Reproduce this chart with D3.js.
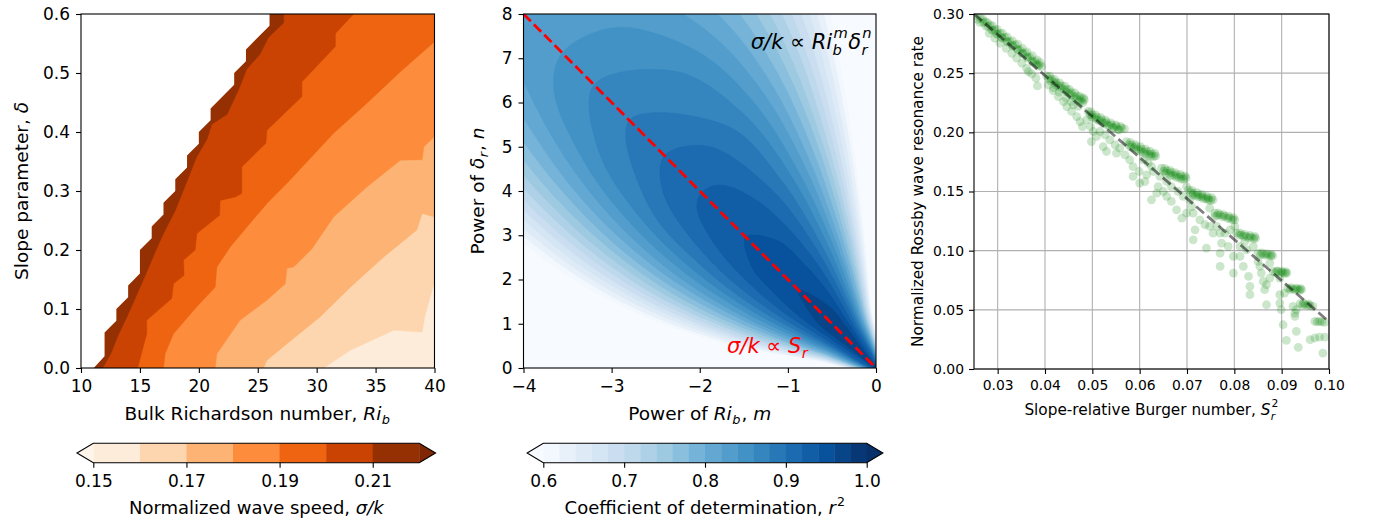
<!DOCTYPE html>
<html>
<head>
<meta charset="utf-8">
<script src="https://cdn.jsdelivr.net/npm/d3@7"></script>
<style>
  body { margin: 0; background: #fff; }
  svg text { font-family: "DejaVu Sans", sans-serif; fill: #000; white-space: pre; }
</style>
</head>
<body>
<svg id="fig" width="1374" height="529"></svg>
<script>
// ---------------- Panel 1: wave speed over (Ri_b, delta) ----------------
const speedLevels = [0.15, 0.16, 0.17, 0.18, 0.19, 0.20, 0.21, 0.22];
const speedTicks = [0.15, 0.17, 0.19, 0.21];
const riTicks = [10, 15, 20, 25, 30, 35, 40];
const deltaTicks = [0, 0.1, 0.2, 0.3, 0.4, 0.5, 0.6];

// edge of the solved region (no solution to the left of it)
const nanEdgeRi    = [11.08, 12, 12, 13, 13, 14, 14, 15, 15, 16, 16, 17, 17, 18, 18, 19, 19, 20, 20, 21, 21, 23, 23, 24, 24, 26, 26];
const nanEdgeDelta = [0, 0.02, 0.06, 0.08, 0.10, 0.12, 0.14, 0.16, 0.20, 0.22, 0.24, 0.26, 0.28, 0.30, 0.32, 0.34, 0.36, 0.38, 0.40, 0.42, 0.44, 0.48, 0.50, 0.52, 0.54, 0.58, 0.60];

// iso-lines of sigma/k
const c016Ri    = [30.6, 32.86, 36.54, 38.95, 39.2, 40];
const c016Delta = [0, 0.03, 0.064, 0.061, 0.089, 0.146];
const c017Ri    = [25.5, 25.78, 27.48, 30.31, 32.86, 35.69, 38.5, 38.95, 40];
const c017Delta = [0, 0.013, 0.041, 0.087, 0.137, 0.188, 0.234, 0.262, 0.256];
const c018Ri    = [21.39, 21.53, 23.5, 25.78, 27.34, 27.48, 28.04, 29.6, 31.44, 34.28, 37.1, 38.95, 39.1, 40];
const c018Delta = [0, 0.024, 0.081, 0.115, 0.143, 0.169, 0.171, 0.202, 0.256, 0.307, 0.352, 0.353, 0.375, 0.392];
const c019Ri    = [17.0, 17.14, 17.85, 18.84, 19.83, 21.39, 21.53, 22.66, 24.08, 25.78, 27.48, 31.44, 34.28, 37.1, 40];
const c019Delta = [0, 0.024, 0.058, 0.081, 0.104, 0.137, 0.171, 0.205, 0.239, 0.279, 0.313, 0.398, 0.449, 0.502, 0.553];
const c020Ri    = [14.8, 15.58, 15.58, 17.7, 17.85, 18.75, 18.7, 19.69, 19.83, 21.76, 21.81, 23.09, 23.65, 23.65, 25.69, 25.78, 28.75, 28.75, 31.59, 31.59, 33.14];
const c020Delta = [0, 0.058, 0.081, 0.118, 0.143, 0.157, 0.183, 0.20, 0.228, 0.259, 0.284, 0.29, 0.296, 0.341, 0.381, 0.403, 0.46, 0.485, 0.545, 0.567, 0.6];
const c021Ri    = [11.84, 12.55, 13.1, 13.97, 14.67, 15.52, 16.37, 17.05, 18.0, 19.0, 19.8, 20.7, 21.1, 22.4, 23.4, 24.08, 25.2, 25.9, 27.2, 27.2];
const c021Delta = [0, 0.025, 0.053, 0.09, 0.121, 0.16, 0.20, 0.23, 0.267, 0.317, 0.357, 0.388, 0.413, 0.43, 0.473, 0.507, 0.532, 0.56, 0.585, 0.6];

// ---------------- Panel 2: r^2 over exponents (m, n) ----------------
const r2Levels = d3.range(21).map(i => +(0.6 + 0.02 * i).toFixed(2));
const r2Ticks = [0.6, 0.7, 0.8, 0.9, 1.0];
const mTicks = [-4, -3, -2, -1, 0];
const nTicks = [0, 1, 2, 3, 4, 5, 6, 7, 8];
// Iso-lines of r^2 in ridge coordinates: s runs along the diagonal from (0,0) (s=0)
// to (-4,8) (s=1); d is the offset across it (upper = towards (0,8), lower = towards (-4,0)).
// One entry per level: stations s, upper offsets, lower offsets, and where the level closes on the ridge.
const r2StationS = [
  [0.1, 0.25, 0.4, 0.55, 0.7, 0.85, 1.0],
  [0.1, 0.25, 0.4, 0.55, 0.7, 0.85, 1.0],
  [0.1, 0.25, 0.4, 0.55, 0.7, 0.85, 1.0],
  [0.1, 0.25, 0.4, 0.55, 0.7, 0.85, 1.0],
  [0.1, 0.25, 0.4, 0.55, 0.7, 0.85, 1.0],
  [0.1, 0.25, 0.4, 0.55, 0.7, 0.85, 1.0],
  [0.1, 0.25, 0.4, 0.55, 0.7, 0.85, 1.0],
  [0.1, 0.25, 0.4, 0.55, 0.7, 0.85, 1.0],
  [0.1, 0.25, 0.4, 0.55, 0.7, 0.85, 1.0],
  [0.1, 0.25, 0.4, 0.55, 0.7, 0.85, 1.0],
  [0.1, 0.25, 0.4, 0.55, 0.7, 0.85, 1.0],
  [0.1, 0.25, 0.4, 0.55, 0.7, 0.85, 1.0],
  [0.1, 0.25, 0.4, 0.55, 0.7, 0.85],
  [0.1, 0.25, 0.4, 0.55, 0.7],
  [0.1, 0.25, 0.4, 0.55],
  [0.1, 0.25, 0.4, 0.55],
  [0.1, 0.25, 0.4, 0.48],
  [0.05, 0.1, 0.18, 0.25, 0.32],
  [0.05, 0.1, 0.15],
  []
];
const r2UpperD = [
  [0.084, 0.207, 0.321, 0.425, 0.514, 0.588, 0.657],
  [0.082, 0.202, 0.312, 0.411, 0.495, 0.565, 0.628],
  [0.080, 0.195, 0.302, 0.397, 0.476, 0.539, 0.596],
  [0.077, 0.189, 0.291, 0.382, 0.455, 0.513, 0.563],
  [0.075, 0.182, 0.280, 0.366, 0.434, 0.485, 0.528],
  [0.072, 0.176, 0.269, 0.349, 0.412, 0.455, 0.491],
  [0.069, 0.169, 0.257, 0.333, 0.388, 0.423, 0.449],
  [0.067, 0.162, 0.245, 0.314, 0.363, 0.389, 0.405],
  [0.064, 0.154, 0.233, 0.295, 0.336, 0.351, 0.354],
  [0.061, 0.146, 0.219, 0.275, 0.307, 0.310, 0.294],
  [0.057, 0.137, 0.204, 0.253, 0.275, 0.261, 0.219],
  [0.054, 0.128, 0.189, 0.229, 0.238, 0.200, 0.099],
  [0.050, 0.119, 0.171, 0.202, 0.194, 0.112],
  [0.046, 0.108, 0.153, 0.171, 0.137],
  [0.042, 0.096, 0.131, 0.132],
  [0.037, 0.083, 0.104, 0.076],
  [0.031, 0.067, 0.069, 0.037],
  [0.013, 0.024, 0.040, 0.045, 0.040],
  [0.008, 0.016, 0.021],
  []
];
const r2LowerD = [
  [0.078, 0.180, 0.255, 0.303, 0.327, 0.334, 0.335],
  [0.076, 0.175, 0.248, 0.293, 0.315, 0.321, 0.320],
  [0.073, 0.170, 0.240, 0.283, 0.303, 0.306, 0.304],
  [0.071, 0.164, 0.231, 0.272, 0.290, 0.291, 0.287],
  [0.069, 0.159, 0.223, 0.261, 0.276, 0.275, 0.269],
  [0.066, 0.153, 0.214, 0.249, 0.262, 0.259, 0.250],
  [0.064, 0.147, 0.205, 0.237, 0.247, 0.241, 0.229],
  [0.061, 0.141, 0.195, 0.224, 0.231, 0.221, 0.206],
  [0.058, 0.134, 0.185, 0.210, 0.214, 0.200, 0.180],
  [0.056, 0.127, 0.174, 0.196, 0.195, 0.176, 0.150],
  [0.053, 0.119, 0.162, 0.180, 0.175, 0.148, 0.112],
  [0.049, 0.112, 0.150, 0.163, 0.151, 0.114, 0.050],
  [0.046, 0.103, 0.136, 0.144, 0.124, 0.064],
  [0.042, 0.094, 0.121, 0.122, 0.087],
  [0.038, 0.084, 0.104, 0.094],
  [0.034, 0.072, 0.083, 0.054],
  [0.029, 0.058, 0.055, 0.028],
  [0.012, 0.022, 0.036, 0.039, 0.033],
  [0.0075, 0.0145, 0.019],
  []
];
const r2TipS = [1.4, 1.4, 1.4, 1.4, 1.4, 1.4, 1.4, 1.4, 1.4, 1.3, 1.167, 1.033, 0.89, 0.80, 0.70, 0.60, 0.495, 0.37, 0.22, 0];
const ridgeM = [-4, 0];
const ridgeN = [8, 0];

// ---------------- Panel 3: resonance rate vs Burger number ----------------
const burgerSq = [
  0.0252,0.0263,0.0273,0.0284,0.0294,0.0305,0.0315,0.0326,0.0337,0.0347,0.0358,0.0368,0.0379,0.0388,0.0393,
  0.0258,0.0270,0.0280,0.0290,0.0300,0.0310,0.0321,0.0332,0.0343,0.0353,0.0363,0.0374,0.0385,
  0.0268,0.0278,0.0289,0.0299,0.0310,0.0320,0.0331,0.0342,0.0352,0.0362,0.0373,0.0383,0.0390,
  0.0262,0.0275,0.0287,0.0298,0.0309,0.0320,0.0331,0.0342,0.0352,0.0363,0.0373,0.0382,
  0.0282,0.0294,0.0305,0.0318,0.0330,0.0340,0.0351,0.0361,0.0372,0.0384,0.0381,0.0365,
  0.0403,0.0414,0.0424,0.0435,0.0446,0.0456,0.0467,0.0477,0.0483,
  0.0408,0.0420,0.0430,0.0441,0.0451,0.0462,0.0472,0.0480,
  0.0410,0.0420,0.0431,0.0442,0.0452,0.0463,0.0473,0.0482,
  0.0412,0.0423,0.0434,0.0445,0.0455,0.0466,0.0476,
  0.0407,0.0417,0.0428,0.0439,0.0446,0.0456,0.0467,0.0474,0.0479,0.0460,
  0.0418,0.0430,0.0445,0.0455,0.0470,
  0.0491,0.0500,0.0510,0.0520,0.0530,0.0541,0.0551,0.0562,
  0.0495,0.0505,0.0515,0.0525,0.0536,0.0546,0.0557,
  0.0497,0.0507,0.0518,0.0528,0.0539,0.0550,0.0560,0.0568,
  0.0499,0.0510,0.0521,0.0532,0.0543,0.0554,
  0.0488,0.0496,0.0502,0.0509,0.0516,0.0527,0.0498,0.0537,0.0548,0.0551,0.0558,0.0523,0.0530,
  0.0572,0.0583,0.0593,0.0604,0.0615,0.0625,0.0634,
  0.0577,0.0588,0.0598,0.0609,0.0620,0.0630,
  0.0580,0.0591,0.0602,0.0612,0.0622,0.0632,
  0.0581,0.0592,0.0603,0.0613,0.0624,
  0.0569,0.0579,0.0586,0.0599,0.0608,0.0618,0.0625,0.0615,0.0629,0.0600,0.0586,0.0611,
  0.0646,0.0657,0.0667,0.0678,0.0689,0.0698,
  0.0651,0.0662,0.0672,0.0683,0.0693,
  0.0653,0.0664,0.0675,0.0686,0.0696,
  0.0655,0.0666,0.0677,0.0688,
  0.0643,0.0639,0.0650,0.0657,0.0667,0.0678,0.0689,0.0699,0.0667,0.0657,0.0681,0.0692,0.0699,0.0625,0.0636,
  0.0703,0.0713,0.0724,0.0734,0.0745,0.0755,
  0.0708,0.0718,0.0729,0.0740,0.0750,
  0.0710,0.0721,0.0731,0.0742,0.0752,
  0.0712,0.0723,0.0734,0.0745,
  0.0706,0.0710,0.0713,0.0717,0.0713,0.0727,0.0738,0.0748,0.0755,0.0741,0.0759,0.0748,
  0.0759,0.0770,0.0780,0.0791,0.0801,
  0.0764,0.0775,0.0786,0.0796,
  0.0766,0.0777,0.0788,0.0798,
  0.0763,0.0770,0.0773,0.0770,0.0770,0.0787,0.0798,0.0798,0.0780,0.0791,0.0801,
  0.0805,0.0815,0.0826,0.0836,0.0845,
  0.0810,0.0820,0.0831,0.0841,
  0.0812,0.0822,0.0833,0.0843,
  0.0812,0.0812,0.0819,0.0830,0.0833,0.0833,0.0826,0.0840,0.0822,
  0.0850,0.0861,0.0872,0.0881,
  0.0855,0.0866,0.0877,
  0.0858,0.0868,0.0878,
  0.0850,0.0854,0.0857,0.0861,0.0864,0.0868,0.0875,
  0.0882,0.0892,0.0903,0.0911,
  0.0887,0.0898,0.0907,
  0.0890,0.0900,0.0909,
  0.0875,0.0868,0.0896,0.0896,0.0896,0.0899,0.0903,
  0.0913,0.0924,0.0934,0.0942,
  0.0918,0.0929,0.0938,
  0.0920,0.0931,0.0940,
  0.0906,0.0910,0.0931,0.0928,0.0935,0.0924,
  0.0939,0.0949,0.0960,0.0966,
  0.0944,0.0955,
  0.0946,0.0957,
  0.0931,0.0928,
  0.0970,0.0980,0.0991,0.0975,0.0985,0.0960,0.0970,0.0980,0.0991,0.0987
];
const resonanceRate = [
  0.2990,0.2964,0.2936,0.2907,0.2865,0.2837,0.2803,0.2767,0.2739,0.2696,0.2668,0.2634,0.2598,0.2570,0.2556,
  0.2955,0.2925,0.2895,0.2862,0.2828,0.2795,0.2762,0.2728,0.2695,0.2662,0.2628,0.2594,0.2560,
  0.2958,0.2930,0.2900,0.2870,0.2838,0.2806,0.2775,0.2745,0.2712,0.2680,0.2648,0.2612,0.2590,
  0.2930,0.2898,0.2866,0.2832,0.2800,0.2768,0.2735,0.2702,0.2670,0.2637,0.2604,0.2575,
  0.2837,0.2795,0.2753,0.2710,0.2668,0.2626,0.2584,0.2541,0.2494,0.2392,0.2457,0.2513,
  0.2477,0.2449,0.2421,0.2392,0.2364,0.2336,0.2308,0.2288,0.2274,
  0.2452,0.2420,0.2390,0.2360,0.2330,0.2300,0.2272,0.2250,
  0.2475,0.2448,0.2418,0.2390,0.2362,0.2333,0.2305,0.2290,
  0.2432,0.2400,0.2372,0.2342,0.2314,0.2285,0.2262,
  0.2401,0.2353,0.2302,0.2260,0.2218,0.2176,0.2133,0.2091,0.2049,0.2232,
  0.2375,0.2340,0.2290,0.2260,0.2220,
  0.2176,0.2147,0.2128,0.2105,0.2083,0.2063,0.2049,0.2035,
  0.2150,0.2120,0.2098,0.2075,0.2055,0.2038,0.2020,
  0.2172,0.2148,0.2125,0.2102,0.2080,0.2062,0.2050,0.2030,
  0.2128,0.2105,0.2082,0.2060,0.2040,0.2022,
  0.2105,0.2049,0.2007,0.1965,0.2007,0.1979,0.1922,0.1936,0.1894,0.1824,0.1866,0.1880,0.1838,
  0.1922,0.1894,0.1880,0.1858,0.1838,0.1818,0.1801,
  0.1895,0.1870,0.1852,0.1832,0.1812,0.1795,
  0.1915,0.1895,0.1878,0.1858,0.1840,0.1822,
  0.1875,0.1855,0.1836,0.1816,0.1798,
  0.1810,0.1768,0.1711,0.1669,0.1768,0.1739,0.1711,0.1641,0.1669,0.1571,0.1627,0.1584,
  0.1697,0.1677,0.1661,0.1641,0.1627,0.1613,
  0.1672,0.1652,0.1636,0.1620,0.1605,
  0.1695,0.1678,0.1660,0.1645,0.1630,
  0.1655,0.1637,0.1620,0.1605,
  0.1627,0.1542,0.1500,0.1458,0.1416,0.1345,0.1275,0.1317,0.1542,0.1585,0.1500,0.1458,0.1542,0.1430,0.1486,
  0.1514,0.1486,0.1472,0.1458,0.1444,0.1430,
  0.1490,0.1468,0.1455,0.1440,0.1425,
  0.1510,0.1490,0.1475,0.1460,0.1448,
  0.1470,0.1455,0.1440,0.1427,
  0.1430,0.1373,0.1317,0.1176,0.1092,0.1261,0.1219,0.1205,0.1148,0.1022,0.1289,0.1359,
  0.1317,0.1303,0.1289,0.1275,0.1261,
  0.1298,0.1285,0.1272,0.1260,
  0.1318,0.1305,0.1292,0.1280,
  0.1205,0.1148,0.1064,0.0980,0.0867,0.1036,0.0951,0.0811,0.1148,0.1176,0.1205,
  0.1148,0.1134,0.1120,0.1115,0.1106,
  0.1132,0.1120,0.1108,0.1100,
  0.1150,0.1138,0.1128,0.1120,
  0.1036,0.0951,0.0867,0.0782,0.0698,0.0628,0.1007,0.1036,0.1078,
  0.0979,0.0971,0.0965,0.0957,
  0.0965,0.0960,0.0955,
  0.0982,0.0975,0.0968,
  0.0909,0.0867,0.0811,0.0740,0.0670,0.0543,0.0895,
  0.0825,0.0825,0.0816,0.0811,
  0.0815,0.0812,0.0808,
  0.0830,0.0826,0.0822,
  0.0768,0.0712,0.0768,0.0628,0.0557,0.0501,0.0374,
  0.0684,0.0675,0.0675,0.0670,
  0.0672,0.0668,0.0665,
  0.0688,0.0684,0.0680,
  0.0642,0.0242,0.0318,0.0473,0.0183,0.0529,
  0.0552,0.0543,0.0535,0.0529,
  0.0542,0.0538,
  0.0556,0.0550,
  0.0501,0.0445,
  0.0402,0.0402,0.0394,0.0398,0.0398,0.0248,0.0262,0.0270,0.0270,0.0135
];
const fitLineX = [0.025, 0.10];
const fitLineY = [0.30, 0.04];
const burgerTicks = [0.03, 0.04, 0.05, 0.06, 0.07, 0.08, 0.09, 0.10];
const rateTicks = [0, 0.05, 0.10, 0.15, 0.20, 0.25, 0.30];

// ---------------- colour ramps ----------------
const orangesStops = ['#fff5eb','#fee6ce','#fdd0a2','#fdae6b','#fd8d3c','#f16913','#d94801','#a63603','#7f2704'];
const bluesStops   = ['#f7fbff','#deebf7','#c6dbef','#9ecae1','#6baed6','#4292c6','#2171b5','#08519c','#08306b'];
function ramp(stops) {
  return d3.scaleLinear()
    .domain(stops.map((_, i) => i / (stops.length - 1)))
    .range(stops)
    .interpolate(d3.interpolateRgb);
}
const oranges = ramp(orangesStops);
const blues = ramp(bluesStops);
function binColours(levels, cmap) {
  const lo = levels[0], hi = levels[levels.length - 1];
  return d3.range(levels.length - 1).map(i => cmap(((levels[i] + levels[i + 1]) / 2 - lo) / (hi - lo)));
}
const speedColours = binColours(speedLevels, oranges);
const r2Colours = binColours(r2Levels, blues);

// ---------------- helpers ----------------
const svg = d3.select('#fig');
const TICK = 17, LABEL = 18.5, SPINE = 1.1;

// text with italic runs and sub/superscripts
function mathText(parent, parts, opt) {
  const size = opt.size;
  const outer = parent.append('g')
    .attr('transform', `translate(${opt.x},${opt.y}) rotate(${opt.rotate || 0})`);
  const inner = outer.append('g');
  let cursor = 0;
  const put = (txt, x, y, sz, italic) => {
    const t = inner.append('text').attr('x', x).attr('y', y)
      .attr('xml:space', 'preserve')
      .style('font-size', sz + 'px')
      .style('font-style', italic ? 'italic' : 'normal')
      .style('fill', opt.fill || '#000')
      .text(txt);
    return t.node().getComputedTextLength();
  };
  parts.forEach(p => {
    if (p.t) cursor += put(p.t, cursor, 0, size, !!p.it);
    const both = p.sub && p.sup;
    let w = 0;
    if (p.sub) w = Math.max(w, put(p.sub, cursor + 0.02 * size, (both ? 0.30 : 0.24) * size, 0.7 * size, !/[0-9]/.test(p.sub)));
    if (p.sup) w = Math.max(w, put(p.sup, cursor + 0.06 * size, (both ? -0.52 : -0.44) * size, 0.7 * size, !/[0-9]/.test(p.sup)));
    if (w) cursor += w + 0.08 * size;
  });
  const shift = opt.anchor === 'middle' ? -cursor / 2 : opt.anchor === 'end' ? -cursor : 0;
  inner.attr('transform', `translate(${shift},0)`);
  return outer;
}

function styleAxis(g, size) {
  g.select('.domain').remove();
  g.selectAll('.tick line').attr('stroke', '#000').attr('stroke-width', SPINE);
  g.selectAll('.tick text').style('font-size', size + 'px')
    .style('font-family', '"DejaVu Sans", sans-serif').attr('fill', '#000');
}

function frame(box) {
  svg.append('rect').attr('x', box.x0).attr('y', box.y0)
    .attr('width', box.x1 - box.x0).attr('height', box.y1 - box.y0)
    .attr('fill', 'none').attr('stroke', '#000').attr('stroke-width', SPINE);
}

function clipFor(id, box) {
  svg.append('clipPath').attr('id', id).append('rect')
    .attr('x', box.x0).attr('y', box.y0)
    .attr('width', box.x1 - box.x0).attr('height', box.y1 - box.y0);
}

function colorbar(o) {
  const g = svg.append('g');
  const s = d3.scaleLinear().domain([o.levels[0], o.levels[o.levels.length - 1]]).range([o.x0, o.x1]);
  const mid = (o.y0 + o.y1) / 2;
  const ext = 0.05 * (o.x1 - o.x0);
  o.colours.forEach((c, i) => {
    g.append('rect').attr('x', s(o.levels[i])).attr('y', o.y0)
      .attr('width', s(o.levels[i + 1]) - s(o.levels[i]) + 0.4).attr('height', o.y1 - o.y0)
      .attr('fill', c);
  });
  g.append('path').attr('d', `M${o.x0},${o.y0}L${o.x0 - ext},${mid}L${o.x0},${o.y1}Z`).attr('fill', o.under);
  g.append('path').attr('d', `M${o.x1},${o.y0}L${o.x1 + ext},${mid}L${o.x1},${o.y1}Z`).attr('fill', o.over);
  g.append('path')
    .attr('d', `M${o.x0},${o.y0}L${o.x1},${o.y0}L${o.x1 + ext},${mid}L${o.x1},${o.y1}L${o.x0},${o.y1}L${o.x0 - ext},${mid}Z`)
    .attr('fill', 'none').attr('stroke', '#000').attr('stroke-width', SPINE);
  const ax = g.append('g').attr('transform', `translate(0,${o.y1})`)
    .call(d3.axisBottom(s).tickValues(o.ticks).tickSize(5).tickPadding(7).tickFormat(o.fmt));
  styleAxis(ax, TICK);
  mathText(svg, o.label, { x: (o.x0 + o.x1) / 2, y: 514, size: 18, anchor: 'middle' });
}

// ================= Panel 1 =================
const box1 = { x0: 81, x1: 434.5, y0: 14, y1: 368 };
const xRi = d3.scaleLinear().domain([10, 40]).range([box1.x0, box1.x1]);
const yDelta = d3.scaleLinear().domain([0, 0.6]).range([box1.y1, box1.y0]);
clipFor('clip1', box1);
const g1 = svg.append('g').attr('clip-path', 'url(#clip1)');
const line1 = d3.line().x(d => xRi(d[0])).y(d => yDelta(d[1])).curve(d3.curveLinearClosed);

g1.append('rect').attr('x', box1.x0).attr('y', box1.y0)
  .attr('width', box1.x1 - box1.x0).attr('height', box1.y1 - box1.y0)
  .attr('fill', speedColours[0]);
const speedIso = [
  [c016Ri, c016Delta], [c017Ri, c017Delta], [c018Ri, c018Delta],
  [c019Ri, c019Delta], [c020Ri, c020Delta], [c021Ri, c021Delta]
];
speedIso.forEach(([ri, de], k) => {
  const pts = ri.map((r, i) => [r, de[i]]);
  if (pts[pts.length - 1][0] >= 40) pts.push([40, 0.6]);
  pts.push([10, 0.6], [10, 0]);
  g1.append('path').attr('d', line1(pts)).attr('fill', speedColours[k + 1])
    .attr('stroke', speedColours[k + 1]).attr('stroke-width', 0.4);
});
const nanPts = nanEdgeRi.map((r, i) => [r, nanEdgeDelta[i]]);
nanPts.push([10, 0.6], [10, 0]);
g1.append('path').attr('d', line1(nanPts)).attr('fill', '#fff');

frame(box1);
styleAxis(svg.append('g').attr('transform', `translate(0,${box1.y1})`)
  .call(d3.axisBottom(xRi).tickValues(riTicks).tickSize(5).tickPadding(7).tickFormat(d3.format('d'))), TICK);
styleAxis(svg.append('g').attr('transform', `translate(${box1.x0},0)`)
  .call(d3.axisLeft(yDelta).tickValues(deltaTicks).tickSize(5).tickPadding(6).tickFormat(d3.format('.1f'))), TICK);
mathText(svg, [{ t: 'Bulk Richardson number, ' }, { t: 'Ri', it: true, sub: 'b' }],
  { x: (box1.x0 + box1.x1) / 2, y: 420, size: LABEL, anchor: 'middle' });
mathText(svg, [{ t: 'Slope parameter, ' }, { t: 'δ', it: true }],
  { x: 28, y: (box1.y0 + box1.y1) / 2, size: LABEL, anchor: 'middle', rotate: -90 });

colorbar({
  levels: speedLevels, colours: speedColours, under: oranges(0), over: oranges(1),
  x0: 93.3, x1: 419.3, y0: 443.3, y1: 462.7, ticks: speedTicks, fmt: d3.format('.2f'),
  label: [{ t: 'Normalized wave speed, ' }, { t: 'σ/k', it: true }]
});

// ================= Panel 2 =================
const box2 = { x0: 523.5, x1: 876, y0: 14, y1: 368 };
const xM = d3.scaleLinear().domain([-4, 0]).range([box2.x0, box2.x1]);
const yN = d3.scaleLinear().domain([0, 8]).range([box2.y1, box2.y0]);
clipFor('clip2', box2);
const g2 = svg.append('g').attr('clip-path', 'url(#clip2)');
// ridge coordinates -> exponents (m, n)
const ridgeToMN = (s, d) => [-4 * (s - d), 8 * (s + d)];
const line2 = d3.line().x(d => xM(d[0])).y(d => yN(d[1])).curve(d3.curveCatmullRomClosed.alpha(0.5));
g2.append('rect').attr('x', box2.x0).attr('y', box2.y0)
  .attr('width', box2.x1 - box2.x0).attr('height', box2.y1 - box2.y0)
  .attr('fill', blues(0));
r2StationS.forEach((st, k) => {
  if (!st.length) return;
  const pts = [[0, 0]];
  st.forEach((s, i) => pts.push(ridgeToMN(s, r2UpperD[k][i])));
  pts.push(ridgeToMN(r2TipS[k], 0));
  for (let i = st.length - 1; i >= 0; i--) pts.push(ridgeToMN(st[i], -r2LowerD[k][i]));
  g2.append('path').attr('d', line2(pts)).attr('fill', r2Colours[k])
    .attr('stroke', r2Colours[k]).attr('stroke-width', 0.4);
});
g2.append('line')
  .attr('x1', xM(ridgeM[0])).attr('y1', yN(ridgeN[0]))
  .attr('x2', xM(ridgeM[1])).attr('y2', yN(ridgeN[1]))
  .attr('stroke', '#ff0000').attr('stroke-width', 2.8).attr('stroke-dasharray', '10.3,4.4');

frame(box2);
styleAxis(svg.append('g').attr('transform', `translate(0,${box2.y1})`)
  .call(d3.axisBottom(xM).tickValues(mTicks).tickSize(5).tickPadding(7)
    .tickFormat(d => d < 0 ? '\u2212' + Math.abs(d) : String(d))), TICK);
styleAxis(svg.append('g').attr('transform', `translate(${box2.x0},0)`)
  .call(d3.axisLeft(yN).tickValues(nTicks).tickSize(5).tickPadding(6).tickFormat(d3.format('d'))), TICK);
mathText(svg, [{ t: 'Power of ' }, { t: 'Ri', it: true, sub: 'b' }, { t: ', ' }, { t: 'm', it: true }],
  { x: (box2.x0 + box2.x1) / 2, y: 420, size: LABEL, anchor: 'middle' });
mathText(svg, [{ t: 'Power of ' }, { t: 'δ', it: true, sub: 'r' }, { t: ', ' }, { t: 'n', it: true }],
  { x: 484, y: (box2.y0 + box2.y1) / 2, size: LABEL, anchor: 'middle', rotate: -90 });
mathText(svg, [{ t: 'σ/k', it: true }, { t: ' ∝ ' }, { t: 'Ri', it: true, sub: 'b', sup: 'm' }, { t: 'δ', it: true, sub: 'r', sup: 'n' }],
  { x: 872, y: 49, size: 21, anchor: 'end' });
mathText(svg, [{ t: 'σ/k', it: true }, { t: ' ∝ ' }, { t: 'S', it: true, sub: 'r' }],
  { x: 727, y: 353, size: 21, anchor: 'start', fill: '#ff0000' });

colorbar({
  levels: r2Levels, colours: r2Colours, under: blues(0), over: blues(1),
  x0: 543.3, x1: 866.7, y0: 443.3, y1: 462.7, ticks: r2Ticks, fmt: d3.format('.1f'),
  label: [{ t: 'Coefficient of determination, ' }, { t: 'r', it: true, sup: '2' }]
});

// ================= Panel 3 =================
const box3 = { x0: 974, x1: 1329, y0: 14, y1: 369 };
const xB = d3.scaleLinear().domain([0.025, 0.10]).range([box3.x0, box3.x1]);
const yR = d3.scaleLinear().domain([0, 0.30]).range([box3.y1, box3.y0]);
clipFor('clip3', box3);
const g3 = svg.append('g');
burgerTicks.forEach(v => g3.append('line').attr('x1', xB(v)).attr('x2', xB(v))
  .attr('y1', box3.y0).attr('y2', box3.y1).attr('stroke', '#b0b0b0').attr('stroke-width', 1.1));
rateTicks.forEach(v => g3.append('line').attr('y1', yR(v)).attr('y2', yR(v))
  .attr('x1', box3.x0).attr('x2', box3.x1).attr('stroke', '#b0b0b0').attr('stroke-width', 1.1));
const g3c = svg.append('g').attr('clip-path', 'url(#clip3)');
g3c.selectAll('circle').data(burgerSq.map((x, i) => [x, resonanceRate[i]])).join('circle')
  .attr('cx', d => xB(d[0])).attr('cy', d => yR(d[1])).attr('r', 4.4)
  .attr('fill', '#008000').attr('fill-opacity', 0.2);
g3c.append('line')
  .attr('x1', xB(fitLineX[0])).attr('y1', yR(fitLineY[0]))
  .attr('x2', xB(fitLineX[1])).attr('y2', yR(fitLineY[1]))
  .attr('stroke', '#000').attr('stroke-opacity', 0.5)
  .attr('stroke-width', 2.8).attr('stroke-dasharray', '10.3,4.4');
frame(box3);
styleAxis(svg.append('g').attr('transform', `translate(0,${box3.y1})`)
  .call(d3.axisBottom(xB).tickValues(burgerTicks).tickSize(5).tickPadding(6).tickFormat(d3.format('.2f'))), 13.9);
styleAxis(svg.append('g').attr('transform', `translate(${box3.x0},0)`)
  .call(d3.axisLeft(yR).tickValues(rateTicks).tickSize(5).tickPadding(5).tickFormat(d3.format('.2f'))), 13.9);
mathText(svg, [{ t: 'Slope-relative Burger number, ' }, { t: 'S', it: true, sub: 'r', sup: '2' }],
  { x: (box3.x0 + box3.x1) / 2, y: 415, size: 15.3, anchor: 'middle' });
mathText(svg, [{ t: 'Normalized Rossby wave resonance rate' }],
  { x: 923, y: (box3.y0 + box3.y1) / 2, size: 15.3, anchor: 'middle', rotate: -90 });
</script>
</body>
</html>
